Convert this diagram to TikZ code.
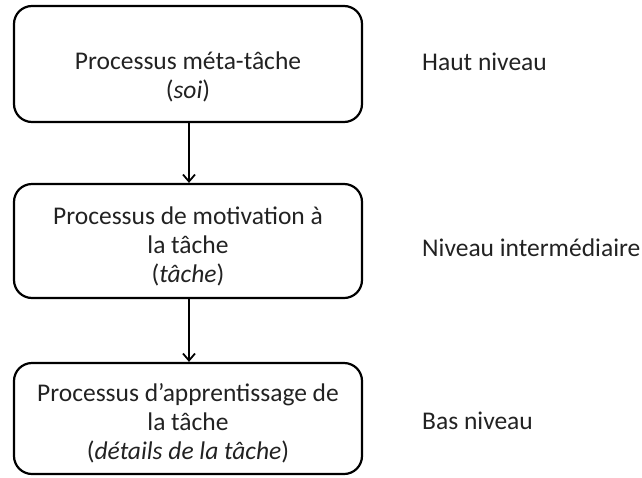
\documentclass[tikz,border=0pt]{standalone}
\usepackage{fontspec}
\setmainfont{Carlito}
\usetikzlibrary{arrows.meta}
\definecolor{txt}{HTML}{222222}
\tikzset{
  procbox/.style={draw=black, line width=2.2pt, rounded corners=18pt, minimum width=348pt, inner sep=0pt},
  boxtext/.style={align=center, text=txt, font=\fontsize{25.5}{29}\selectfont, inner sep=0pt},
  levellabel/.style={anchor=west, text=txt, font=\fontsize{25.5}{29}\selectfont, inner sep=0pt},
  flow/.style={line width=1.8pt, -{Straight Barb[length=7pt,width=12pt,line width=1.8pt]}}
}
\begin{document}
\begin{tikzpicture}[x=1pt,y=-1pt]
\useasboundingbox (0,0) rectangle (642,477);
\node[procbox, minimum height=116pt] (b1) at (188,64) {};
\node[procbox, minimum height=114pt] (b2) at (188,241) {};
\node[procbox, minimum height=111pt] (b3) at (188,418.5) {};
\node[boxtext] (t1) at (188,77) {Processus méta-tâche\\(\textit{soi})};
\node[boxtext] (t2) at (188,246) {Processus de motivation à\\la tâche\\(\textit{tâche})};
\node[boxtext] (t3) at (188,423) {Processus d’apprentissage de\\la tâche\\(\textit{détails de la tâche})};
\node[levellabel] (l1) at (422,62) {Haut niveau};
\node[levellabel] (l2) at (422,248) {Niveau intermédiaire};
\node[levellabel] (l3) at (422,421) {Bas niveau};
\draw[flow] (b1.south -| 189,0) -- (b2.north -| 189,0);
\draw[flow] (b2.south -| 189,0) -- (b3.north -| 189,0);
\end{tikzpicture}
\end{document}
